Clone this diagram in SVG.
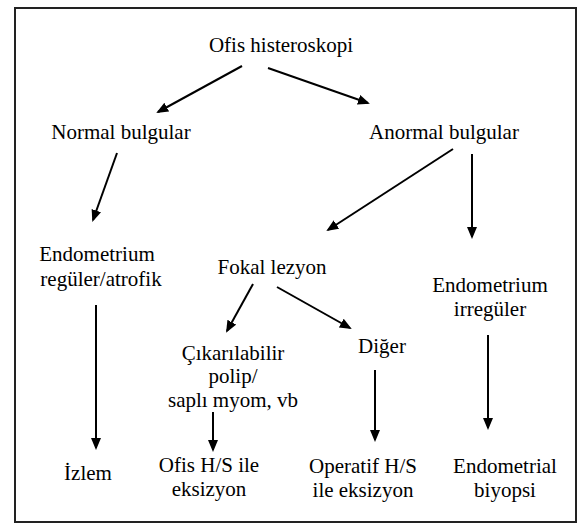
<svg xmlns="http://www.w3.org/2000/svg" width="581" height="532" viewBox="0 0 581 532">
<style>
.t text{font-size:21px;fill:#000;text-anchor:middle}
.c line{stroke:#000;stroke-width:2;marker-end:url(#ah)}
</style>
<defs>
<marker id="ah" markerUnits="userSpaceOnUse" markerWidth="14" markerHeight="12" refX="10" refY="5" orient="auto">
<path d="M0,0 L12,5 L0,10 Z" fill="#000"/>
</marker>
</defs>
<rect x="0" y="0" width="581" height="532" fill="#fff"/>
<rect x="15" y="8" width="561" height="514" fill="none" stroke="#222" stroke-width="2"/>
<g class="c" id="connectors">
<line x1="242" y1="66" x2="158" y2="112"/>
<line x1="268" y1="68" x2="368" y2="103"/>
<line x1="117" y1="153" x2="93" y2="220"/>
<line x1="453" y1="149" x2="328" y2="230"/>
<line x1="472" y1="154" x2="472" y2="237"/>
<line x1="96" y1="305" x2="96" y2="448"/>
<line x1="253" y1="284" x2="227" y2="331"/>
<line x1="277" y1="287" x2="350" y2="328"/>
<line x1="213" y1="412" x2="213" y2="450"/>
<line x1="375" y1="370" x2="375" y2="440"/>
<line x1="488" y1="335" x2="488" y2="428"/>
</g>
<g class="t" font-family="'Liberation Serif', 'DejaVu Serif', serif">
<g id="n-ofis"><text x="281" y="52">Ofis histeroskopi</text></g>
<g id="n-normal"><text x="121" y="139">Normal bulgular</text></g>
<g id="n-anormal"><text x="444" y="139">Anormal bulgular</text></g>
<g id="n-endo-reg"><text x="97" y="261">Endometrium</text><text x="101" y="286">regüler/atrofik</text></g>
<g id="n-fokal"><text x="272" y="274">Fokal lezyon</text></g>
<g id="n-endo-irr"><text x="490" y="292">Endometrium</text><text x="490" y="316">irregüler</text></g>
<g id="n-cikar"><text x="233" y="360">Çıkarılabilir</text><text x="233" y="383">polip/</text><text x="233" y="407">saplı myom, vb</text></g>
<g id="n-diger"><text x="382" y="353">Diğer</text></g>
<g id="n-izlem"><text x="88" y="480">İzlem</text></g>
<g id="n-ofishs"><text x="209" y="472">Ofis H/S ile</text><text x="209" y="496">eksizyon</text></g>
<g id="n-operatif"><text x="363" y="473">Operatif H/S</text><text x="363" y="497">ile eksizyon</text></g>
<g id="n-biyopsi"><text x="505" y="473">Endometrial</text><text x="505" y="497">biyopsi</text></g>
</g>
</svg>
